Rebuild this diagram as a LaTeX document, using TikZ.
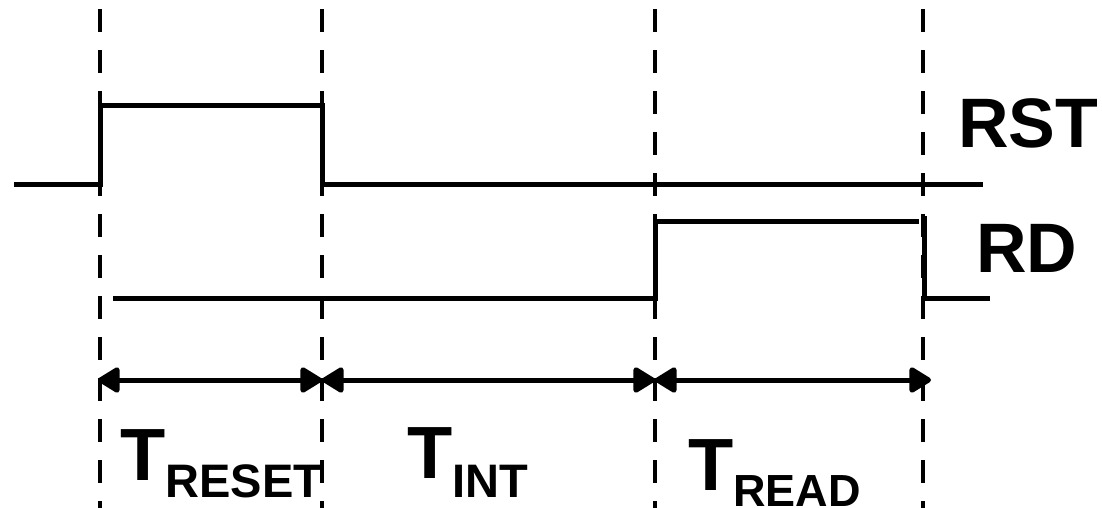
\documentclass[tikz,border=0pt]{standalone}
\usepackage{fontspec}
\setmainfont{Liberation Sans}
\usetikzlibrary{arrows.meta}
\begin{document}
\begin{tikzpicture}[x=1pt,y=-1pt,
  guide/.style={line width=4.6pt, dash pattern=on 23pt off 18pt},
  signal/.style={line width=5pt},
  span/.style={line width=5pt, {Triangle[length=24pt,width=28pt,round]}-{Triangle[length=24pt,width=28pt,round]}},
  lbl/.style={inner sep=0pt, anchor=base west, font=\fontsize{70}{70}\selectfont\bfseries},
  tlbl/.style={inner sep=0pt, anchor=base west, font=\fontsize{74}{74}\selectfont\bfseries}]
\useasboundingbox (0,0) rectangle (1102,508);
% time markers
\coordinate (t0) at (100,0);
\coordinate (t1) at (322,0);
\coordinate (t2) at (655,0);
\coordinate (t3) at (923,0);
% dashed guides
\foreach \t in {t0,t1,t2,t3}
  \draw[guide] ([yshift=-9.3pt]\t) -- ([yshift=-508pt]\t);
% RST waveform
\draw[signal] (14,184) -- (100,184) -- (100,106) -- (322,106) -- (322,184) -- (983,184);
% RD waveform
\draw[signal] (113,298) -- (655,298) -- (655,221) -- (919,221);
\draw[signal] (924,216) -- (924,298) -- (990,298);
% period arrows
\coordinate (a0) at (98,380);
\coordinate (a1) at (322,380);
\coordinate (a2) at (655,380);
\coordinate (a3) at (931,380);
\draw[span] (a0) -- (a1);
\draw[span] (a1) -- (a2);
\draw[span] (a2) -- (a3);
% labels
\node[lbl] (rst) at (958,147) {RST};
\node[lbl] (rd) at (976,272) {RD};
\node[tlbl] (treset) at (120,480) {T\raisebox{-17pt}{\fontsize{47}{47}\selectfont RESET}};
\node[tlbl] (tint) at (407,478) {T\raisebox{-19pt}{\fontsize{47}{47}\selectfont INT}};
\node[tlbl] (tread) at (688,490) {T\raisebox{-16pt}{\fontsize{45}{45}\selectfont READ}};
\end{tikzpicture}
\end{document}
